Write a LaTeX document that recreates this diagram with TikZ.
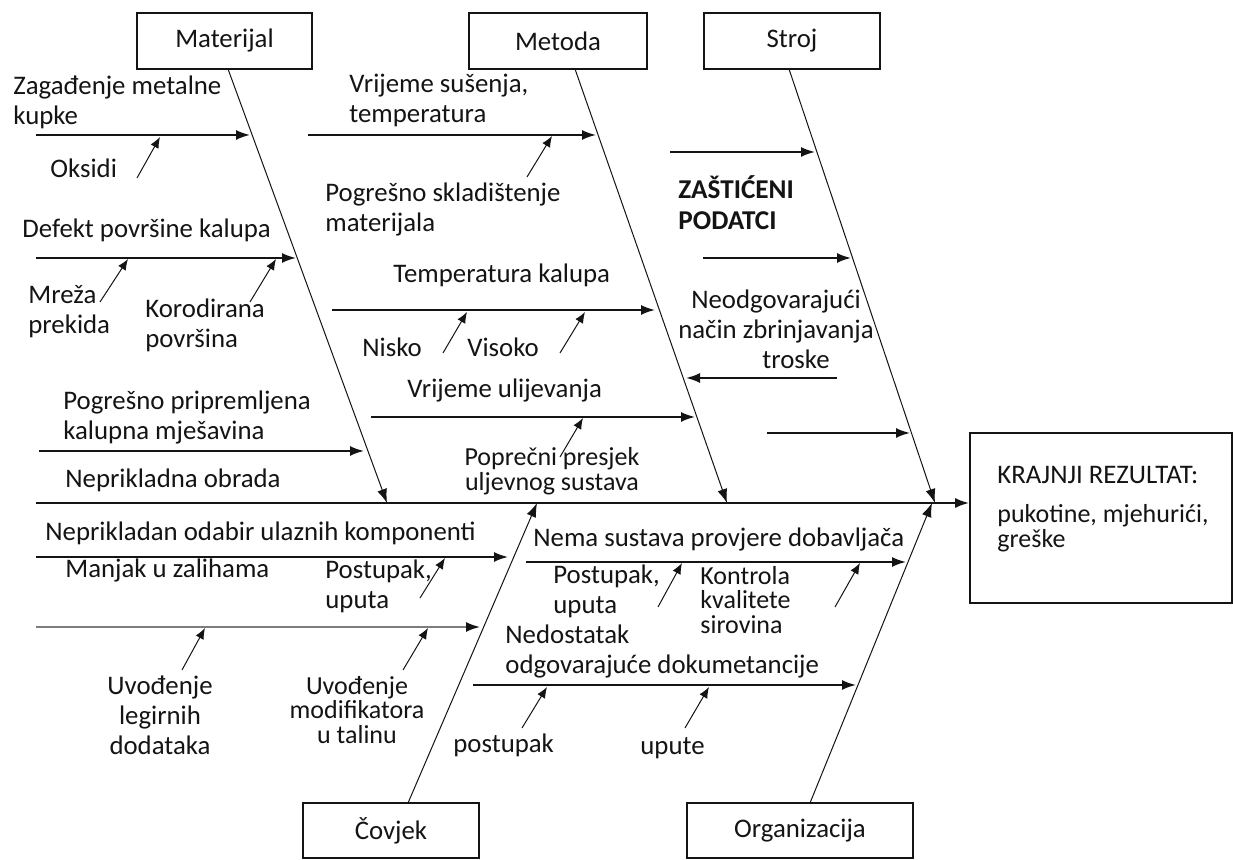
\documentclass[tikz,border=0pt]{standalone}
\usepackage{fontspec}
\setmainfont{Carlito}
\usetikzlibrary{arrows.meta}
\definecolor{ink}{RGB}{20, 20, 20}
\definecolor{fadedgray}{RGB}{125, 125, 125}
\definecolor{white}{RGB}{255, 255, 255}

\begin{document}
\begin{tikzpicture}[
        x=0.5pt, y=-0.5pt,
        every node/.style={font=\fontsize{13.4}{15}\selectfont, text=ink, inner sep=0pt},
        catbox/.style={draw=ink, line width=0.8pt, minimum height=28pt},
        lbl/.style={anchor=west, align=left},
        tight/.style={font=\fontsize{13}{12.3}\selectfont},
        spine/.style={draw=ink, line width=1.1pt, -{Latex[length=7pt,width=5pt]}},
        bone/.style={draw=ink, line width=0.5pt, -{Latex[length=7pt,width=5pt]}},
        rib/.style={draw=ink, line width=0.9pt, -{Latex[length=7pt,width=5pt]}},
        twig/.style={draw=ink, line width=0.5pt, -{Latex[length=5.5pt,width=4.5pt]}}
    ]

    \fill[white] (0,0) rectangle (1233,860);
    \useasboundingbox (0,0) rectangle (1233,860);

    % category boxes
    \node[catbox, minimum width=87.5pt] (mat) at (224.5,41) {Materijal};
    \node[catbox, minimum width=89pt] (met) at (558,41) {Metoda};
    \node[catbox, minimum width=88pt] (str) at (792,41) {Stroj};
    \node[catbox, minimum width=88pt, minimum height=27.5pt] (cov) at (391,830.5) {Čovjek};
    \node[catbox, minimum width=113pt, minimum height=27.5pt] (org) at (800,830.5) {Organizacija};
    \node[catbox, minimum width=131pt, minimum height=85pt] (res) at (1101,518) {};

    % result text
    \node[lbl] (restitle) at (997,475) {KRAJNJI REZULTAT:};
    \node[lbl, tight] (resbody) at (997,528) {pukotine, mjehurići,\\greške};

    % spine and main bones
    \coordinate (tail) at (36,503);
    \draw[spine] (tail) -- (tail -| res.west);

    \coordinate (mat-t) at (228,69);   \coordinate (mat-j) at (387,503);
    \coordinate (met-t) at (575,69);   \coordinate (met-j) at (727,503);
    \coordinate (str-t) at (789,69);   \coordinate (str-j) at (935,503);
    \coordinate (cov-t) at (408,803);  \coordinate (cov-j) at (537,503);
    \coordinate (org-t) at (810,803);  \coordinate (org-j) at (932,503);
    \foreach \b in {mat,met,str,cov,org}
        \draw[bone] (\b-t) -- (\b-j);

    % ribs
    \foreach \n/\xa/\xb/\y in {m1/36/250/135, m2/36/296/258, m3/39/364/451,
            t1/308/596/135, t2/332/655/310, t3/371/695/417,
            s1/670/815/152, s2/703/851/258, s3/767/910/433, s4/837/686/378,
            h1/36/508/557, o1/526/906/562, o2/473/856/685}{
        \coordinate (\n-a) at (\xa,\y);
        \coordinate (\n-b) at (\xb,\y);
        \draw[rib] (\n-a) -- (\n-b);
    }
    \coordinate (h2-a) at (36,627);
    \coordinate (h2-b) at (480,627);
    \draw[rib, draw=fadedgray, -{Latex[length=7pt,width=5pt,color=ink]}] (h2-a) -- (h2-b);

    % sub-causes
    \foreach \n/\xa/\ya/\xb/\yb in {ok/137/178/160/137, mr/100/302/128/259,
            ko/250/302/276/259, sk/527/177/552/136, ni/443/353/467/312,
            vi/560/353/585/312, pp/560/457/583/418, pl/420/598/445/558,
            ul/182/670/205/628, um/403/670/428/628, pr/658/607/682/563,
            kk/835/607/860/563, po/522/728/547/687, up/685/728/709/687}{
        \coordinate (\n-a) at (\xa,\ya);
        \coordinate (\n-b) at (\xb,\yb);
        \draw[twig] (\n-a) -- (\n-b);
    }

    % labels: Materijal
    \node[lbl] (zagad) at (13,102.5) {Zagađenje metalne\\kupke};
    \node[lbl] (oksidi) at (50,168) {Oksidi};
    \node[lbl] (defekt) at (22,230) {Defekt površine kalupa};
    \node[lbl] (mreza) at (28,312) {Mreža\\prekida};
    \node[lbl] (korod) at (145,325) {Korodirana\\površina};
    \node[lbl] (mjesav) at (63,417) {Pogrešno pripremljena\\kalupna mješavina};
    \node[lbl] (obrada) at (65,480) {Neprikladna obrada};

    % labels: Metoda
    \node[lbl] (susenje) at (349,100) {Vrijeme sušenja,\\temperatura};
    \node[lbl] (sklad) at (325,209) {Pogrešno skladištenje\\materijala};
    \node[lbl] (tempkal) at (393,275) {Temperatura kalupa};
    \node[lbl] (nisko) at (362,347) {Nisko};
    \node[lbl] (visoko) at (467,347) {Visoko};
    \node[lbl] (ulijev) at (407,390) {Vrijeme ulijevanja};
    \node[tight, align=center] (presjek) at (552,471) {Poprečni presjek\\uljevnog sustava};

    % labels: Stroj
    \node[lbl, font=\fontsize{13.6}{15.5}\selectfont\bfseries] (zasticeni) at (678,203) {ZAŠTIĆENI\\PODATCI};
    \node[align=center] (troske) at (776,329) {Neodgovarajući\\način zbrinjavanja\\\hspace*{20pt}troske};

    % labels: Čovjek
    \node[lbl] (odabir) at (45,533) {Neprikladan odabir ulaznih komponenti};
    \node[lbl] (manjak) at (65,570) {Manjak u zalihama};
    \node[lbl] (postl) at (325,586) {Postupak,\\uputa};
    \node[align=center] (legir) at (160,715) {Uvođenje\\legirnih\\dodataka};
    \node[tight, align=center] (modif) at (357,710) {Uvođenje\\modifikatora\\u talinu};

    % labels: Organizacija
    \node[lbl] (dobav) at (533,539) {Nema sustava provjere dobavljača};
    \node[lbl] (postr) at (553,591) {Postupak,\\uputa};
    \node[lbl, tight] (kontrola) at (700,600) {Kontrola\\kvalitete\\sirovina};
    \node[lbl] (dokum) at (505,652) {Nedostatak\\odgovarajuće dokumetancije};
    \node[lbl] (postupak) at (453,745) {postupak};
    \node[lbl] (upute) at (640,748) {upute};

\end{tikzpicture}
\end{document}
